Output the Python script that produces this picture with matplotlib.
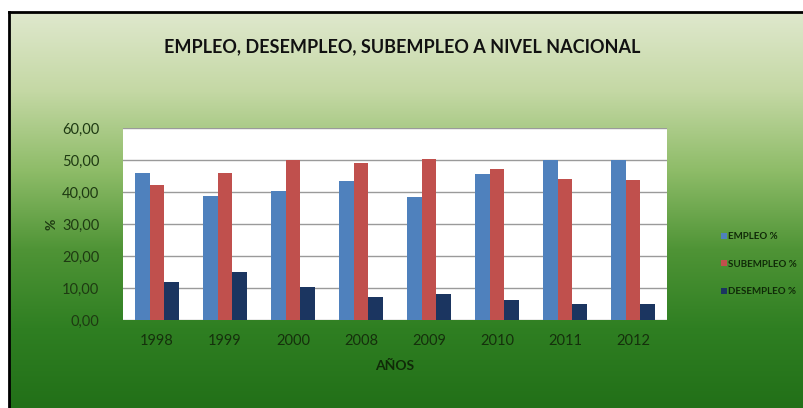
import numpy as np
import matplotlib
matplotlib.use("Agg")
import matplotlib.pyplot as plt
from matplotlib.colors import LinearSegmentedColormap

# data
years = ["1998", "1999", "2000", "2008", "2009", "2010", "2011", "2012"]
empleo = [45.9, 38.8, 40.2, 43.3, 38.4, 45.7, 50.1, 50.1]
subempleo = [42.3, 45.9, 50.1, 49.1, 50.3, 47.2, 44.0, 43.6]
desempleo = [11.8, 15.1, 10.2, 7.3, 8.0, 6.1, 5.0, 5.0]
labels = ["EMPLEO %", "SUBEMPLEO %", "DESEMPLEO %"]
colors = ["#4F81BD", "#C0504D", "#1B3560"]
yticks = [0, 10, 20, 30, 40, 50, 60]

plt.rcParams['font.family'] = ['Lato', 'DejaVu Sans']
W, H = 804, 408
fig = plt.figure(figsize=(W / 100, H / 100), dpi=100)
fig.patch.set_facecolor("white")

# green gradient chart area with black frame on left/top
bg = fig.add_axes([9 / W, 0, (W - 9) / W, (H - 12) / H])
cmap = LinearSegmentedColormap.from_list(
    "g", ["#dfe8cd", "#c4d8a4", "#8ebc68", "#4f9436", "#2f7f22", "#227018"])
grad = np.linspace(0, 1, 256).reshape(-1, 1)
bg.imshow(grad, aspect="auto", cmap=cmap, extent=[0, 1, 0, 1], origin="upper")
bg.set_xticks([])
bg.set_yticks([])
for s in ["right", "bottom"]:
    bg.spines[s].set_visible(False)
for s in ["left", "top"]:
    bg.spines[s].set_linewidth(2)
    bg.spines[s].set_color("black")

# plot area
ax = fig.add_axes([123 / W, (H - 320) / H, 544 / W, 192 / H])
ax.set_facecolor("white")
x = np.arange(len(years))
w = 0.22
for i, (vals, lab, c) in enumerate(zip([empleo, subempleo, desempleo], labels, colors)):
    ax.bar(x + (i - 1) * w, vals, width=w, color=c, label=lab, zorder=3)

ax.set_xlim(-0.5, len(years) - 0.5)
ax.set_ylim(0, 60)
ax.set_yticks(yticks)
ax.set_yticklabels([f"{v:.2f}".replace(".", ",") for v in yticks],
                   fontsize=10.5, color="#1e3a12")
ax.set_xticks(x)
ax.set_xticklabels(years, fontsize=10.5, color="#15300c")
ax.tick_params(axis="y", length=0, pad=17)
ax.tick_params(axis="x", length=0, pad=10)
ax.grid(axis="y", color="#9a9a9a", linewidth=1, zorder=0)
for s in ax.spines.values():
    s.set_visible(False)
ax.set_ylabel("%", fontsize=10, fontweight="bold", color="#1e3a12",
              rotation=90, labelpad=3)
ax.set_xlabel("AÑOS", fontsize=10, fontweight="bold", color="#102a08",
              labelpad=9)

fig.text(402 / W, 1 - 47 / H, "EMPLEO, DESEMPLEO, SUBEMPLEO A NIVEL NACIONAL",
         ha="center", va="center", fontsize=13, fontweight="bold",
         color="#111111")

leg = ax.legend(loc="center left", bbox_to_anchor=(1.09, 0.29), frameon=False,
                fontsize=7, handlelength=0.6, handleheight=0.6,
                handletextpad=0.1, labelspacing=1.9, borderpad=0)
for t in leg.get_texts():
    t.set_color("#102a08")
    t.set_fontweight("bold")

fig.savefig("out.png", dpi=100)
